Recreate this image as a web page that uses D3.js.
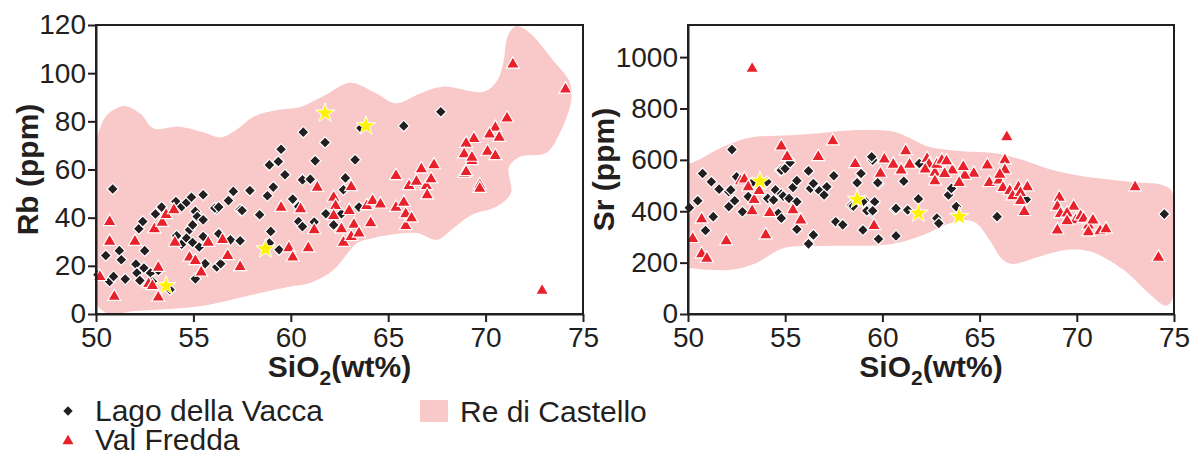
<!DOCTYPE html>
<html lang="en">
<head>
<meta charset="UTF-8">
<title>Rb and Sr vs SiO2</title>
<script src="https://d3js.org/d3.v7.min.js"></script>
<style>
    body { margin: 0; background: #fff; }
    svg text { font-family: "Liberation Sans", Arial, Helvetica, sans-serif; fill: #231f20; }
    .axis path, .axis line { stroke: #231f20; stroke-width: 2px; }
    .axis text { font-size: 28px; }
    .axis-title { font-size: 30px; font-weight: bold; }
    .legend text { font-size: 30px; }
</style>
</head>
<body>
<svg width="1202" height="459"></svg>
<script>
    // x ticks (SiO2 wt%)
    const xTicks = [50, 55, 60, 65, 70, 75];
    const rbTicks = [0, 20, 40, 60, 80, 100, 120];
    const srTicks = [0, 200, 400, 600, 800, 1000];

    // Lago della Vacca  [SiO2, Rb]
    const lagoRb = [[50.1,16.3],[50.5,24.3],[50.7,13.5],[50.86,51.9],[50.9,15.6],[51.2,26.3],[51.3,22.5],[51.5,14.5],
        [52.05,20.7],[52.1,17],[52.25,13.9],[52.2,35.4],[52.4,38.4],[52.5,26.3],[52.46,19.1],[52.8,17],[52.9,13.5],
        [53.05,41.5],[53.37,44.4],[53.2,18.1],[53.8,10.1],[54.1,46.7],[54.14,32.5],[54.4,29],[54.4,44.6],[54.65,46.3],
        [54.9,48.5],[54.65,31.5],[54.8,35],[54.96,37],[55.1,42.6],[55.2,40.5],[55.5,49.5],[55.5,39.1],[54.96,29.7],
        [55.1,14.6],[55.3,27.8],[55.5,32.2],[55.6,20.9],[56.2,43.6],[56.3,33.3],[56.2,19.5],[56.4,20.9],[56.8,47.1],
        [57.05,50.9],[56.9,30.8],[57.4,43.3],[57.4,30.4],[57.9,51.3],[58.4,41.2],[58.8,49.1],[59.1,52.7],[58.97,34.3],
        [58.9,29.5],[59.4,26.7],[58.9,61.9],[59.36,63.3],[59.7,57.8],[60.1,47.7],[60.4,38.4],[59.5,68.4],[60.64,75.5],
        [61.76,71.2],[61.25,63.6],[63.3,64],[65.8,78.1],[67.7,84],[60.6,55.7],[61.0,56],[62.8,56.5],[62.7,51.6],
        [56.1,44],[56.3,44.4],[57.5,43],[60.4,44.6],[61.8,41.6],[62.6,41.6],[63.5,44.4],[63.6,77.2],[60.6,36.3],
        [61.2,38.2],[62.2,37]];

    // Val Fredda  [SiO2, Rb]
    const valRb = [[50.7,38.7],[50.7,30.5],[50.94,7.6],[50.2,15.9],[52.0,30.5],[53.0,35.7],[53.4,38.4],[53.6,41.6],
        [54.0,43.6],[53.2,7.3],[52.7,12.9],[52.9,12.1],[53.2,19.7],[54.05,30.1],[54.8,23.9],[55.1,22.5],[55.4,17.7],
        [55.76,30.1],[56.5,31.2],[56.76,24.6],[57.4,20],[59.5,44.6],[59.9,27.8],[60.1,23.9],[60.5,44],[61.36,52.9],
        [60.9,27.8],[61.2,35.3],[62.2,48.8],[62.3,45.3],[62.2,41.2],[62.6,35.7],[62.7,30.1],[63.0,43.3],[63.1,32.5],
        [63.24,37.5],[63.5,33.9],[63.9,45.3],[64.2,47.4],[64.6,46],[64.1,38.2],[65.4,57.8],[65.4,44.6],[65.8,46.7],
        [65.9,41.9],[65.9,37],[66.2,40.2],[66.07,53.6],[66.45,55.4],[66.7,60.6],[66.96,53.6],[67.2,56.4],[67.0,49.8],
        [67.35,62.3],[68.9,58.7],[69.0,59.4],[69.3,64],[69.7,54],[69.7,52.5],[72.9,10.1],[71.4,104.1],[74.1,93.7],
        [71.1,81.7],[70.5,77.8],[70.2,75],[70.7,73.7],[69.4,73.2],[69.0,71.2],[70.1,67.9],[70.5,66.1],[68.9,66.8],
        [69.3,65.4],[63.1,53.2]];

    // unlabelled samples (yellow stars)
    const starRb = [[53.6,11.7],[58.7,27],[61.76,83.4],[63.86,78.1]];

    // Re di Castello field outline  [SiO2, Rb]
    const reRbField = [[49.6,55],[49.9,68],[50.5,82],[51.44,86.4],[52.3,83],[52.94,77.1],[54.3,77.8],[55.5,75.5],
        [56.45,73.4],[57.3,77],[58.1,82],[59.3,84.7],[60.5,86],[61.8,91],[63.04,96],[64.3,92],[65.4,87.5],[66.6,91.5],
        [67.8,94.4],[69.9,92.3],[70.6,97],[70.9,104],[71.16,116],[71.6,119.6],[72.3,116.5],[73.4,106],[74.3,96.5],
        [74.4,88.9],[73.8,75],[73.1,66.8],[71.8,65.4],[71.2,61],[71.3,50.2],[70.57,44.6],[69.3,41.2],[68.4,36],
        [67.5,30.8],[66.45,33.6],[64.2,31.5],[63.4,29.4],[62.2,18.4],[61.0,12.9],[59.96,11.4],[57.5,7],[55.3,3.2],
        [51.9,1.1],[50.7,0],[50.1,3.2],[49.6,20]];

    // Lago della Vacca  [SiO2, Sr]
    const lagoSr = [[50.07,414],[50.5,441],[50.75,547],[51.2,515],[50.9,325],[51.3,379],[51.6,486],[52.1,476],
        [52.2,483],[52.1,418],[52.4,441],[52.5,534],[52.8,398],[53.1,457],[54.06,515],[54.1,450],[54.4,444],[54.5,483],
        [54.74,560],[54.8,467],[54.9,459],[54.65,392],[54.8,373],[55.2,450],[55.4,493],[55.6,519],[55.6,437],[55.2,599],
        [55.6,330],[56.2,557],[56.3,489],[56.45,508],[56.45,308],[56.2,273],[56.76,480],[57.14,495],[57.0,463],
        [57.5,538],[57.6,359],[57.96,347],[58.4,422],[58.9,547],[58.7,511],[59.1,441],[59.0,327],[59.45,398],
        [59.57,433],[59.5,599],[59.8,508],[59.8,292],[60.65,408],[60.7,411],[60.7,304],[52.26,640],[59.45,612],
        [53.3,511],[54.8,560],[55.0,566],[55.25,590],[58.5,420],[59.0,437],[59.6,437],[59.2,402],[59.5,402],
        [59.76,511],[61.1,517],[61.3,405],[61.85,448],[62.8,373],[62.9,353],[61.9,586],[67.4,446],[74.5,389],
        [65.9,379],[63.8,418],[63.4,463],[63.55,489]];

    // Val Fredda  [SiO2, Sr]
    const valSr = [[50.24,297],[50.7,373],[50.7,237],[50.97,220],[51.97,288],[52.7,521],[52.9,528],[53.1,498],
        [53.4,448],[53.66,483],[53.3,405],[54.2,398],[54.0,311],[55.4,408],[55.8,369],[58.6,588],[59.9,551],
        [59.57,347],[53.3,959],[54.8,657],[55.1,616],[56.7,616],[57.45,677],[60.1,606],[60.56,586],[61.2,638],
        [61.4,586],[60.96,563],[62.3,608],[62.4,586],[62.2,567],[62.7,554],[62.7,521],[62.8,586],[63.06,602],
        [66.4,693],[66.3,603],[66.3,564],[65.4,583],[64.7,551],[64.24,543],[64.16,577],[63.6,563],[63.3,599],
        [63.2,550],[63.95,515],[65.5,515],[66.0,524],[66.04,547],[66.2,495],[66.55,483],[67.0,498],[67.46,498],
        [66.7,463],[67.1,476],[67.1,444],[67.3,402],[69.1,457],[69.0,422],[69.16,394],[69.84,422],[69.5,396],
        [69.95,370],[70.2,385],[70.35,375],[69.5,366],[69.0,330],[70.6,349],[70.6,323],[70.83,369],[71.2,327],
        [71.5,334],[73.0,498],[74.2,224]];

    const starSr = [[53.7,517],[58.7,446],[61.85,392],[63.95,379]];

    // Re di Castello field outline  [SiO2, Sr]
    const reSrField = [[49.5,590],[50.07,586],[51.8,651],[53.2,687],[55.25,696],[57,706],[58.7,716],[60.4,712],
        [61.1,696],[62.4,651],[64,635],[65.9,625],[67.2,600],[68.4,568],[70.15,538],[72.7,515],[74.4,502],[74.9,476],
        [74.95,250],[74.9,55],[74.6,32],[73.7,81],[72.4,172],[70.7,243],[69.5,250],[68.1,224],[66.7,195],[66.2,211],
        [65.5,289],[64.84,353],[64.3,366],[63.47,353],[62.1,308],[60.4,272],[57.0,265],[54.9,256],[53.5,198],
        [52.2,172],[51.0,172],[50.1,178],[49.5,180]];

    const colPink = "#f9c9ca", colRed = "#e8212b", colBlack = "#231f20", colYellow = "#fff200";

    const svg = d3.select("svg");

    const panels = [
        { id: "rb", left: 96, right: 583, top: 25, bottom: 314, yMax: 120, yTicks: rbTicks,
          title: "Rb (ppm)", titleX: 38, lago: lagoRb, val: valRb, star: starRb, field: reRbField },
        { id: "sr", left: 688, right: 1174, top: 25, bottom: 314, yMax: 1125, yTicks: srTicks,
          title: "Sr (ppm)", titleX: 614, lago: lagoSr, val: valSr, star: starSr, field: reSrField }
    ];

    const diamond = d3.symbol().type(d3.symbolSquare).size(64);
    const triangle = d3.symbol().type(d3.symbolTriangle).size(74);
    const star = d3.symbol().type(d3.symbolStar).size(120);

    panels.forEach(p => {
        const x = d3.scaleLinear().domain([50, 75]).range([p.left, p.right]);
        const y = d3.scaleLinear().domain([0, p.yMax]).range([p.bottom, p.top]);

        // clip for the field
        svg.append("clipPath").attr("id", "clip-" + p.id)
            .append("rect")
            .attr("x", p.left).attr("y", p.top)
            .attr("width", p.right - p.left).attr("height", p.bottom - p.top);

        svg.append("path")
            .datum(p.field)
            .attr("clip-path", "url(#clip-" + p.id + ")")
            .attr("fill", colPink)
            .attr("d", d3.line()
                .x(d => x(d[0]))
                .y(d => y(d[1]))
                .curve(d3.curveCatmullRomClosed.alpha(0.5)));

        // Lago della Vacca
        svg.append("g").selectAll("path")
            .data(p.lago)
            .enter().append("path")
            .attr("d", diamond)
            .attr("transform", d => `translate(${x(d[0])},${y(d[1])}) rotate(45)`)
            .attr("fill", colBlack)
            .attr("stroke", "#fff")
            .attr("stroke-width", 1.2);

        // Val Fredda
        svg.append("g").selectAll("path")
            .data(p.val)
            .enter().append("path")
            .attr("d", triangle)
            .attr("transform", d => `translate(${x(d[0])},${y(d[1]) + 1})`)
            .attr("fill", colRed)
            .attr("stroke", "#fff")
            .attr("stroke-width", 1.2);

        // stars
        svg.append("g").selectAll("path")
            .data(p.star)
            .enter().append("path")
            .attr("d", star)
            .attr("transform", d => `translate(${x(d[0])},${y(d[1])})`)
            .attr("fill", colYellow)
            .attr("stroke", "#fff")
            .attr("stroke-width", 1);

        // frame
        svg.append("rect")
            .attr("x", p.left).attr("y", p.top)
            .attr("width", p.right - p.left).attr("height", p.bottom - p.top)
            .attr("fill", "none")
            .attr("stroke", colBlack)
            .attr("stroke-width", 2);

        // axes
        svg.append("g")
            .attr("class", "axis")
            .attr("transform", "translate(0," + p.bottom + ")")
            .call(d3.axisBottom(x).tickValues(xTicks).tickSize(8).tickSizeOuter(0).tickPadding(5));

        svg.append("g")
            .attr("class", "axis")
            .attr("transform", "translate(" + p.left + ",0)")
            .call(d3.axisLeft(y).tickValues(p.yTicks).tickFormat(d3.format("d"))
                .tickSize(8).tickSizeOuter(0).tickPadding(2));

        // y title
        svg.append("text")
            .attr("class", "axis-title")
            .attr("transform", `translate(${p.titleX},${(p.top + p.bottom) / 2}) rotate(-90)`)
            .attr("text-anchor", "middle")
            .text(p.title);

        // x title: SiO2(wt%)
        const xt = svg.append("text")
            .attr("class", "axis-title")
            .attr("x", (p.left + p.right) / 2)
            .attr("y", 377)
            .attr("text-anchor", "middle");
        xt.append("tspan").text("SiO");
        xt.append("tspan").attr("dy", 8).style("font-size", "21px").text("2");
        xt.append("tspan").attr("dy", -8).text("(wt%)");
    });

    // legend
    const lg = svg.append("g").attr("class", "legend");
    lg.append("path").attr("d", d3.symbol().type(d3.symbolSquare).size(44))
        .attr("transform", "translate(68,411) rotate(45)").attr("fill", colBlack);
    lg.append("text").attr("x", 95).attr("y", 421).text("Lago della Vacca");
    lg.append("path").attr("d", d3.symbol().type(d3.symbolTriangle).size(52))
        .attr("transform", "translate(68,441)").attr("fill", colRed);
    lg.append("text").attr("x", 95).attr("y", 450).text("Val Fredda");
    lg.append("rect").attr("x", 420).attr("y", 400).attr("width", 28).attr("height", 22).attr("fill", colPink);
    lg.append("text").attr("x", 460).attr("y", 422).text("Re di Castello");
</script>
</body>
</html>
